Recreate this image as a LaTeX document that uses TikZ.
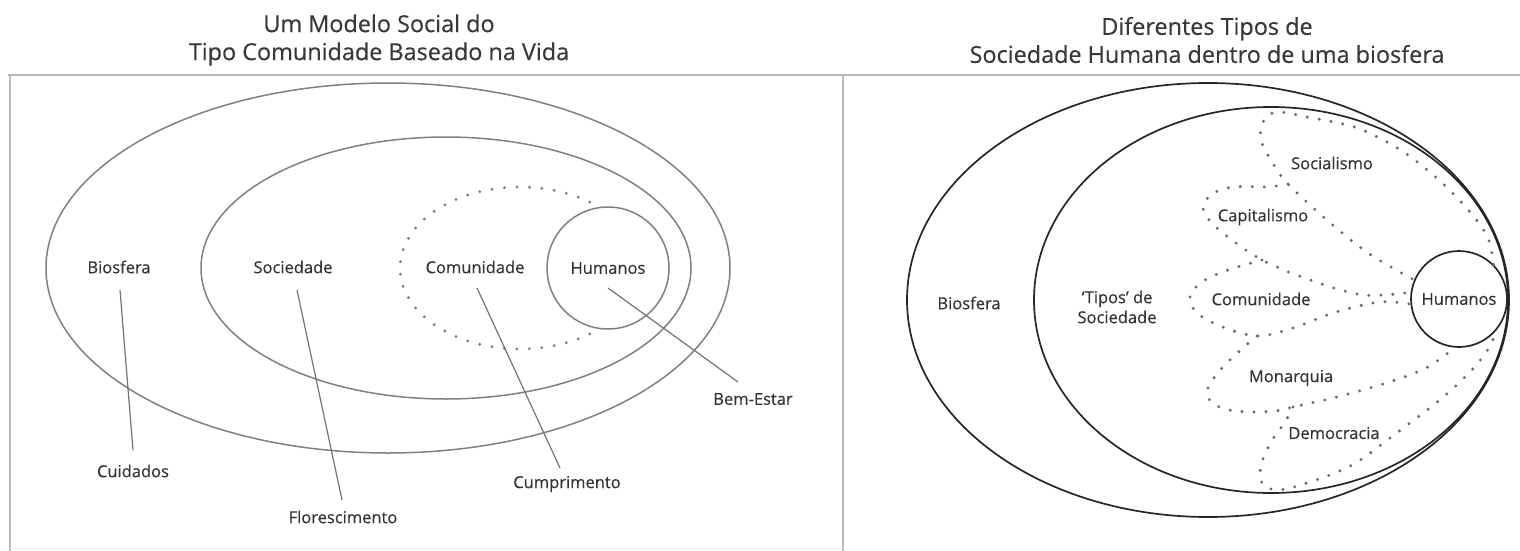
\documentclass[tikz,border=0pt]{standalone}
\usepackage{fontspec}
\setmainfont{Open Sans}
\newfontfamily\lblfont[FakeBold=0.3]{Open Sans}
\usetikzlibrary{calc,shapes.geometric}
\begin{document}
\begin{tikzpicture}[x=1pt,y=-1pt,
  frame/.style={draw=black!27,line width=2.6pt},
  lell/.style={draw=black!50,line width=1.5pt},
  rell/.style={draw=black!85,line width=1.7pt},
  ldots/.style={draw=black!50,line width=3.2pt,line cap=round,dash pattern=on 0pt off 12.5pt},
  rdots/.style={draw=black!58,line width=3.3pt,line cap=round,dash pattern=on 0pt off 12pt},
  lbl/.style={font=\lblfont\fontsize{16.5}{20}\selectfont,text=black!80,inner sep=0pt,align=center},
  ttl/.style={font=\lblfont\fontsize{23.4}{28}\selectfont,text=black!78,align=center,inner sep=0pt},
  conn/.style={draw=black!55,line width=1.2pt},
  humcirc/.style={circle,inner sep=0pt,font=\lblfont\fontsize{16.5}{20}\selectfont,text=black!80},
]
\fill[white] (0,0) rectangle (1520,551);
\useasboundingbox (0,0) rectangle (1520,551);

% titles
\node[ttl] (ttlL) at (379,40) {Um Modelo Social do\\Tipo Comunidade Baseado na Vida};
\node[ttl] (ttlR) at (1207,40) {Diferentes Tipos de\\Sociedade Humana dentro de uma biosfera};

% frame
\draw[frame] (8,75) -- (1520,75);
\draw[frame] (10,75) -- (10,551);
\draw[frame] (843,75) -- (843,551);
\draw[draw=black!8,line width=1pt] (10,548) -- (843,548);

% ---------- left panel ----------
\draw[lell] (388,268) ellipse [x radius=342, y radius=185];
\draw[lell] (446,268) ellipse [x radius=245, y radius=131];
\draw[ldots] (520,268) ellipse [x radius=120, y radius=81];
\node[humcirc,draw=black!50,line width=1.5pt,fill=white,minimum size=122pt] (humL) at (608,268) {Humanos};

\node[lbl] (bioL) at (119,267) {Biosfera};
\node[lbl] (socL) at (293,267) {Sociedade};
\node[lbl] (comL) at (475,267) {Comunidade};
\node[lbl] (cuid) at (133,471) {Cuidados};
\node[lbl] (flor) at (343,517) {Florescimento};
\node[lbl] (cump) at (567,484) {Cumprimento};
\node[lbl] (bem) at (753,399) {Bem-Estar};

\draw[conn] ($(bioL)+(1,23)$) -- ($(cuid)+(0,-21)$);
\draw[conn] ($(socL)+(4,23)$) -- ($(flor)+(-1,-17)$);
\draw[conn] ($(comL)+(2,21)$) -- ($(cump)+(-7,-16)$);
\draw[conn] ($(humL)+(0,20)$) -- ($(bem)+(-15,-17)$);

% ---------- right panel ----------
\draw[rell] (1208,300) ellipse [x radius=301, y radius=217];
\draw[rell] (1271,300) ellipse [x radius=237, y radius=193];
\node[humcirc,draw=black!85,line width=1.7pt,minimum size=96pt] (humR) at (1459,299) {Humanos};

\node[lbl] (bioR) at (969,303) {Biosfera};
\node[lbl] (tipos) at (1117,307) {‘Tipos’ de\\Sociedade};
\node[lbl] (comR) at (1261,299) {Comunidade};
\node[lbl] (cap) at (1263,217) {Capitalismo};
\node[lbl] (soc) at (1332,163) {Socialismo};
\node[lbl] (mon) at (1291,378) {Monarquia};
\node[lbl] (dem) at (1334,433) {Democracia};

% Socialismo loop (and shared line A)
\draw[rdots] plot[smooth,tension=0.55] coordinates {(humR.45) (1488,238) (1470,212) (1440,181) (1402,151) (1357,128) (1307,117) (1276,112) (1263,122) (1261,140) (1272,162) (1288,184) (1327,220) (1368,253) (humR.157)};
% Capitalismo loop
\draw[rdots] plot[smooth,tension=0.55] coordinates {(1288,184) (1267,187) (1233,187) (1212,194) (1203,207) (1210,221) (1228,237) (1262,260) (1310,280) (1363,295) (humR.172)};
% Comunidade loop
\draw[rdots] plot[smooth,tension=0.55] coordinates {(1262,260) (1225,271) (1202,282) (1190,296) (1196,312) (1220,326) (1257,336) (1293,328) (1336,312) (1380,302) (humR.186)};
% Monarquia loop
\draw[rdots] plot[smooth,tension=0.55] coordinates {(1257,336) (1243,348) (1222,368) (1208,388) (1211,402) (1229,410) (1257,412) (1283,410) (1293,407) (1337,397) (1386,383) (1426,368) (humR.265)};
% Democracia loop
\draw[rdots] plot[smooth,tension=0.55] coordinates {(1293,407) (1285,422) (1271,442) (1261,465) (1262,483) (1277,490) (1307,483) (1352,465) (1398,432) (1448,393) (1483,357) (humR.321)};
\end{tikzpicture}
\end{document}
